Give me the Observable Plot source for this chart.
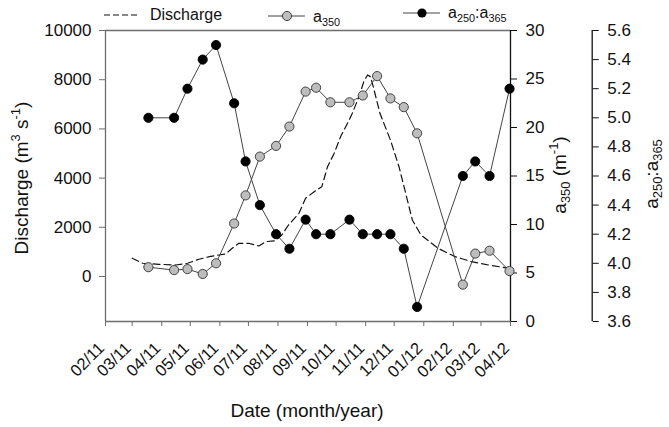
<!DOCTYPE html>
<html><head><meta charset="utf-8">
<script src="https://cdn.jsdelivr.net/npm/d3@7"></script>
<script src="https://cdn.jsdelivr.net/npm/@observablehq/plot@0.6"></script>
<style>
body{margin:0;background:#fff;}
#wrap{position:relative;width:669px;height:427px;font-family:"Liberation Sans",Arial,Helvetica,sans-serif;color:#111;}
#wrap svg{position:absolute;left:0;top:0;}
.lab{position:absolute;white-space:nowrap;font-size:19px;line-height:1;}
.rot{transform:translate(-50%,-50%) rotate(-90deg);}
.leg{position:absolute;white-space:nowrap;font-size:16px;line-height:1;}
sub,sup{font-size:0.68em;line-height:0;}
</style></head><body><div id="wrap"></div>
<script>
// a350 / a250:a365 sampling dates
const sampleDates = ["2011-03-18","2011-04-14","2011-04-28","2011-05-14","2011-05-28","2011-06-16","2011-06-28","2011-07-13","2011-07-30","2011-08-13","2011-08-30","2011-09-10","2011-09-25","2011-10-15","2011-10-29","2011-11-13","2011-11-27","2011-12-11","2011-12-25","2012-02-11","2012-02-24","2012-03-10","2012-03-31"];
const a350 = [5.6,5.3,5.4,4.9,6.0,10.1,13.0,17.0,18.1,20.1,23.7,24.1,22.6,22.6,23.3,25.3,23.0,22.1,19.4,3.8,7.0,7.3,5.2];
const ratio = [5.0,5.0,5.2,5.4,5.5,5.1,4.7,4.4,4.2,4.1,4.3,4.2,4.2,4.3,4.2,4.2,4.2,4.1,3.7,4.6,4.7,4.6,5.2];
// discharge series
const qDates = ["2011-03-01","2011-03-12","2011-03-29","2011-04-16","2011-04-28","2011-05-10","2011-05-21","2011-05-31","2011-06-07","2011-06-14","2011-06-21","2011-07-01","2011-07-12","2011-07-19","2011-07-29","2011-08-05","2011-08-12","2011-08-23","2011-08-30","2011-09-08","2011-09-16","2011-09-22","2011-09-29","2011-10-06","2011-10-13","2011-10-18","2011-10-25","2011-10-30","2011-11-03","2011-11-06","2011-11-09","2011-11-16","2011-11-27","2011-12-06","2011-12-13","2011-12-20","2011-12-29","2012-01-16","2012-02-03","2012-02-20","2012-03-09","2012-03-30"];
const discharge = [740,537,496,467,537,699,805,874,915,1146,1350,1350,1240,1415,1455,1687,2093,2569,3179,3447,3650,4463,5008,5711,6228,6634,7309,7919,8191,8122,7715,6634,5548,4463,3382,2297,1687,1146,805,602,467,333];
// axes
const qTicks = [0,2000,4000,6000,8000,10000];
const aTicks = [0,5,10,15,20,25,30];
const rTicks = [3.6,3.8,4.0,4.2,4.4,4.6,4.8,5.0,5.2,5.4,5.6];
const monthLabels = ["02/11","03/11","04/11","05/11","06/11","07/11","08/11","09/11","10/11","11/11","12/11","01/12","02/12","03/12","04/12"];
const qDomain = [-1830,10000];
const aDomain = [0,30];
const rDomain = [3.6,5.6];
const xDomain = ["2011-02-01","2012-04-01"];

const fromQ = q => (q - qDomain[0])/(qDomain[1]-qDomain[0])*30;
const fromR = r => (r - rDomain[0])/(rDomain[1]-rDomain[0])*30;
const parse = s => new Date(s + "T00:00:00Z");

const qData = qDates.map((d,i)=>({date:parse(d), y:fromQ(discharge[i])}));
const aData = sampleDates.map((d,i)=>({date:parse(d), y:a350[i]}));
const rData = sampleDates.map((d,i)=>({date:parse(d), y:fromR(ratio[i])}));
const x0 = parse(xDomain[0]), x1 = parse(xDomain[1]);
const monthTicks = d3.utcMonth.range(x0, new Date(+x1 + 86400000));

const plot = Plot.plot({
  width:669, height:427, marginLeft:105, marginRight:159, marginTop:30, marginBottom:106,
  style:{fontFamily:'"Liberation Sans",Arial,Helvetica,sans-serif', fontSize:"17px", color:"#111", background:"transparent", overflow:"visible"},
  x:{type:"utc", domain:[x0,x1]},
  y:{domain:aDomain},
  marks:[
    Plot.ruleX([x0], {stroke:"#6e6e6e", strokeWidth:1.3}),
    Plot.ruleY([30], {stroke:"#6e6e6e", strokeWidth:1.3}),
    Plot.ruleY([0], {stroke:"#6e6e6e", strokeWidth:1.3}),
    Plot.ruleX([x1], {stroke:"#111", strokeWidth:1.3}),
    Plot.ruleX([x1], {stroke:"#111", strokeWidth:1.3, dx:81.7}),
    Plot.axisX(monthTicks, {anchor:"bottom", tickSize:5, tickFormat:()=>"", label:null, stroke:"#6e6e6e"}),
    Plot.text(monthTicks, {x:d=>d, frameAnchor:"bottom", text:(d,i)=>monthLabels[i], rotate:-45, textAnchor:"end", lineAnchor:"middle", dx:-4, dy:24, fontSize:16.5, fill:"#111"}),
    Plot.axisY(qTicks.map(fromQ), {anchor:"left", tickSize:6, tickPadding:8, tickFormat:(d,i)=>String(qTicks[i]), fontSize:17, label:null, stroke:"#6e6e6e"}),
    Plot.axisY(aTicks, {anchor:"right", tickSize:6, tickPadding:9, tickFormat:(d,i)=>String(aTicks[i]), fontSize:17, label:null, stroke:"#111"}),
    Plot.axisY(rTicks.map(fromR), {anchor:"right", dx:81.7, tickSize:6, tickPadding:9, tickFormat:(d,i)=>rTicks[i].toFixed(1), fontSize:17, label:null, stroke:"#111"}),
    Plot.line(qData, {x:"date", y:"y", stroke:"#111", strokeWidth:1.2, strokeDasharray:"7,4"}),
    Plot.line(aData, {x:"date", y:"y", stroke:"#444", strokeWidth:1}),
    Plot.dot(aData, {x:"date", y:"y", r:4.6, fill:"#bdbdbd", stroke:"#333", strokeWidth:0.9}),
    Plot.line(rData, {x:"date", y:"y", stroke:"#444", strokeWidth:1}),
    Plot.dot(rData, {x:"date", y:"y", r:4.6, fill:"#000", stroke:"#000", strokeWidth:0.9})
  ]
});
const wrap = document.getElementById("wrap");
wrap.appendChild(plot);

// labels and legend
wrap.insertAdjacentHTML("beforeend", `
<div class="lab rot" style="left:21px;top:178px;">Discharge (m<sup>3</sup> s<sup>-1</sup>)</div>
<div class="lab rot" style="left:559px;top:175px;">a<sub>350</sub> (m<sup>-1</sup>)</div>
<div class="lab rot" style="left:651px;top:174px;">a<sub>250</sub>:a<sub>365</sub></div>
<div class="lab" style="left:307px;top:410px;transform:translate(-50%,-50%);">Date (month/year)</div>
<svg width="669" height="30" style="position:absolute;left:0;top:0;overflow:visible">
  <line x1="104" x2="140" y1="15" y2="15" stroke="#111" stroke-width="1.2" stroke-dasharray="6,3"/>
  <line x1="268" x2="305" y1="16" y2="16" stroke="#444" stroke-width="1"/>
  <circle cx="287" cy="16" r="4.6" fill="#bdbdbd" stroke="#333" stroke-width="0.9"/>
  <line x1="403" x2="440" y1="13" y2="13" stroke="#444" stroke-width="1"/>
  <circle cx="422" cy="13" r="4.6" fill="#000"/>
</svg>
<div class="leg" style="left:150px;top:7px;">Discharge</div>
<div class="leg" style="left:313px;top:9px;">a<sub>350</sub></div>
<div class="leg" style="left:448px;top:5px;">a<sub>250</sub>:a<sub>365</sub></div>
`);
</script></body></html>
